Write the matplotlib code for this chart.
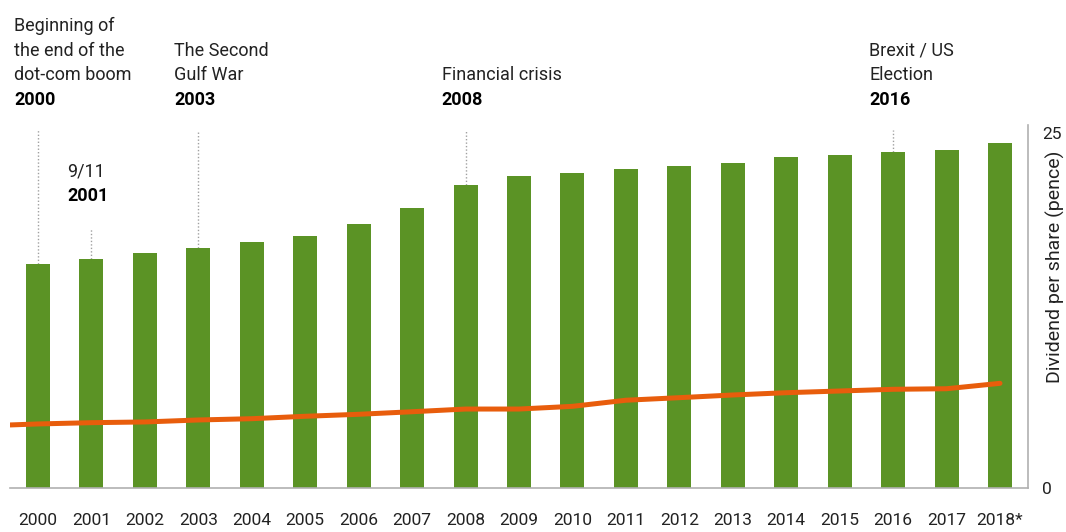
import matplotlib.pyplot as plt
import matplotlib.transforms as transforms
from matplotlib import font_manager

years = ['2000', '2001', '2002', '2003', '2004', '2005', '2006', '2007', '2008', '2009',
         '2010', '2011', '2012', '2013', '2014', '2015', '2016', '2017', '2018*']
dividend = [15.77, 16.13, 16.55, 16.90, 17.32, 17.75, 18.59, 19.72, 21.34, 21.97,
            22.18, 22.46, 22.68, 22.89, 23.31, 23.45, 23.66, 23.80, 24.30]
line_start = 4.44
line_vals = [4.51, 4.60, 4.65, 4.79, 4.88, 5.05, 5.19, 5.37, 5.56, 5.56,
             5.75, 6.18, 6.36, 6.55, 6.71, 6.83, 6.95, 6.99, 7.37]

event_years = ['2000', '2001', '2003', '2008', '2016']
event_texts = ['Beginning of\nthe end of the\ndot-com boom', '9/11', 'The Second\nGulf War',
               'Financial crisis', 'Brexit / US\nElection']

green = '#5b9325'
orange = '#e85d0c'
text_col = '#222222'
axis_col = '#b0b0b0'

names = {f.name for f in font_manager.fontManager.ttflist}
family = 'Roboto' if 'Roboto' in names else 'DejaVu Sans'
plt.rcParams['font.family'] = [family, 'DejaVu Sans']

W, H = 1066, 532
fig = plt.figure(figsize=(W / 100, H / 100), dpi=100)
ax = fig.add_axes([10 / W, 44 / H, 1018 / W, 363 / H])

x = list(range(len(years)))
ax.bar(x, dividend, width=0.45, color=green, zorder=2)
ax.plot([-0.52] + x, [line_start] + line_vals, color=orange, lw=3.6,
        solid_capstyle='round', zorder=3)

ax.set_xlim(-0.524, len(years) - 1 + 0.524)
ax.set_ylim(0, 25.56)

for s in ['top', 'left']:
    ax.spines[s].set_visible(False)
for s in ['bottom', 'right']:
    ax.spines[s].set_color(axis_col)
    ax.spines[s].set_linewidth(1.2)

ax.set_xticks(x)
ax.set_xticklabels(years)
ax.tick_params(axis='x', length=0, pad=18, labelsize=12.5, labelcolor=text_col)
ax.yaxis.tick_right()
ax.set_yticks([0, 25])
ax.tick_params(axis='y', length=0, pad=10, labelsize=12.5, labelcolor=text_col)
ax.yaxis.set_label_position('right')
ax.set_ylabel('Dividend per share (pence)', fontsize=14, color=text_col, rotation=90,
              va='center', ha='center')
ax.yaxis.set_label_coords(1.0265, 0.61)

# event annotations
trans = transforms.blended_transform_factory(ax.transData, fig.transFigure)
for yr, txt in zip(event_years, event_texts):
    i = years.index(yr)
    year_px = 196 if yr == '2001' else 100
    top_px = 229 if yr == '2001' else 130
    top_val = (488 - top_px) / 14.2
    ax.vlines(i, dividend[i], top_val, colors='#a0a0a0', linestyles=(0, (1, 1.5)),
              lw=1, clip_on=False, zorder=1)
    lines = txt.split('\n')
    for k, ln in enumerate(reversed(lines)):
        ypx = year_px - 24.7 * (k + 1)
        fig.text(i - 0.45, (H - ypx) / H, ln, transform=trans, fontsize=13,
                 color=text_col, va='center')
    fig.text(i - 0.45, (H - year_px) / H, yr, transform=trans, fontsize=13,
             color='black', fontweight='bold', va='center')

fig.savefig('out.png', dpi=100)
